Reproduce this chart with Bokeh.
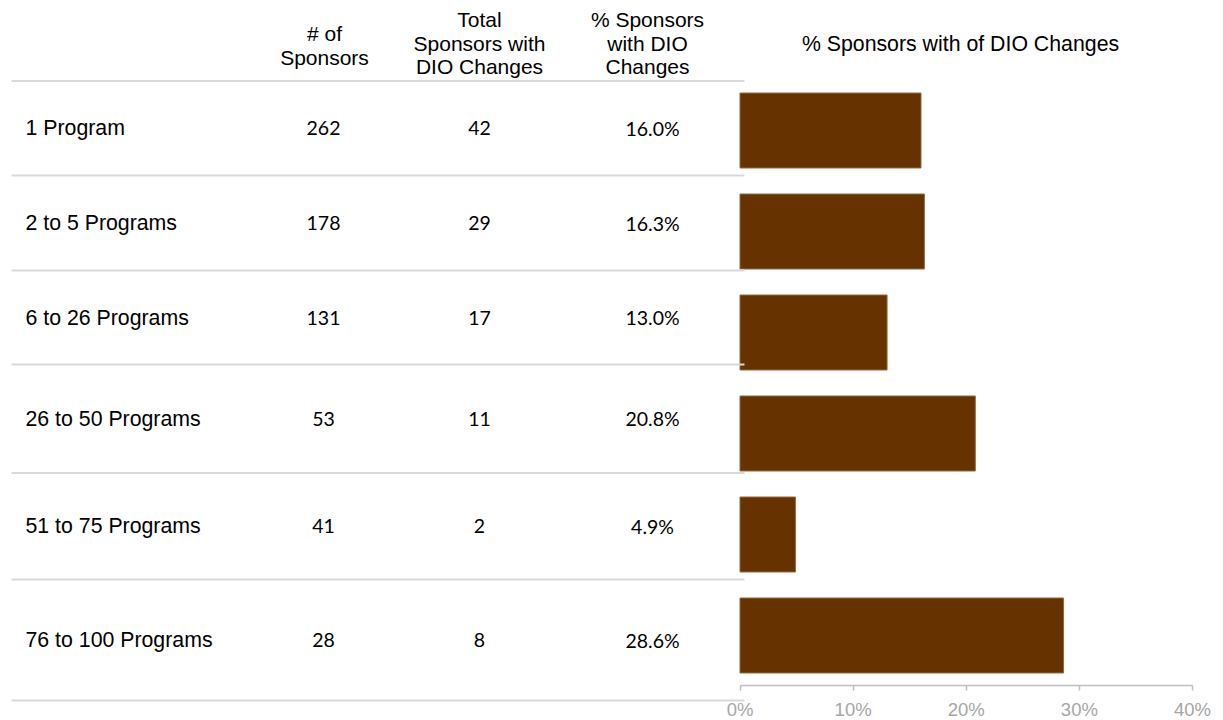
from bokeh.plotting import figure
from bokeh.models import Range1d, FixedTicker, NumeralTickFormatter, ColumnDataSource
from bokeh.core.properties import value
from bokeh.embed import file_html
from bokeh.resources import INLINE

# ---- data ----
categories = ["1 Program", "2 to 5 Programs", "6 to 26 Programs",
              "26 to 50 Programs", "51 to 75 Programs", "76 to 100 Programs"]
num_sponsors = [262, 178, 131, 53, 41, 28]
dio_changes = [42, 29, 17, 11, 2, 8]
pct_changes = [16.0, 16.3, 13.0, 20.8, 4.9, 28.6]
tick_values = [0, 10, 20, 30, 40]
col_headers = [["# of", "Sponsors"],
               ["Total", "Sponsors with", "DIO Changes"],
               ["% Sponsors", "with DIO", "Changes"]]
chart_title = "% Sponsors with of DIO Changes"

# ---- layout constants (canvas pixels) ----
ARIAL = "Liberation Sans"
CALIBRI = "Lato"
BROWN = "#663300"
W, H = 1220, 718
X0_PX = 739.5            # pixel of 0%
PX_PER_UNIT = 1131.25    # pixels per 100%
ROW0_PX = 130.0          # pixel centre of first bar row
ROW_PX = 101.0           # pixels per bar row
AXIS_PX = 685.0


def ux(px):
    return (px - X0_PX) / PX_PER_UNIT


def uy(py):
    return (py - ROW0_PX) / ROW_PX


sep_px = [80.5, 175, 270, 364, 472.5, 579, 700]
row_mid_px = [(sep_px[i] + sep_px[i + 1]) / 2 for i in range(len(categories))]
hdr_x_px = [324, 479, 647]
val_x_px = [323, 479, 652]

p = figure(width=W, height=H,
           x_range=Range1d(ux(0), ux(W)), y_range=Range1d(uy(H), uy(0)),
           output_backend="svg", toolbar_location=None,
           y_axis_location=None, x_axis_location="below", min_border=0)
p.min_border_left = p.min_border_right = p.min_border_top = p.min_border_bottom = 0
p.grid.visible = False
p.outline_line_color = None

# ---- bars ----
src = ColumnDataSource(dict(idx=list(range(len(categories))), cat=categories,
                            val=[v / 100 for v in pct_changes]))
p.hbar(y="idx", left=0, right="val", height=75 / ROW_PX, source=src,
       fill_color=BROWN, line_color="#8f6a45", line_width=1)

# ---- table separators ----
sy = [uy(v) for v in sep_px]
p.segment(x0=[ux(11)] * len(sy), x1=[ux(744)] * len(sy), y0=sy, y1=sy,
          line_color="#d9d9d9", line_width=2)

# ---- headers ----
hx, hy, ht = [], [], []
for cx, lines in zip(hdr_x_px, col_headers):
    top = 33 if len(lines) == 2 else 19
    for k, s in enumerate(lines):
        hx.append(ux(cx)); hy.append(uy(top + k * 23.5)); ht.append(s)
p.text(x=hx, y=hy, text=ht, text_align="center", text_baseline="middle",
       text_font=value(ARIAL), text_font_size="21px", text_color="#000000")

p.text(x=[ux(960)], y=[uy(43)], text=[chart_title], text_align="center",
       text_baseline="middle", text_font=value(ARIAL), text_font_size="21.3px",
       text_color="#000000")

# ---- row labels ----
ry = [uy(v) for v in row_mid_px]
p.text(x=[ux(25)] * len(categories), y=ry, text=categories, text_align="left",
       text_baseline="middle", text_font=value(ARIAL), text_font_size="21.3px",
       text_color="#000000")

# ---- value columns ----
cols = [[str(v) for v in num_sponsors], [str(v) for v in dio_changes],
        ["%.1f%%" % v for v in pct_changes]]
for cx, vals in zip(val_x_px, cols):
    p.text(x=[ux(cx)] * len(vals), y=ry, text=vals, text_align="center",
           text_baseline="middle", text_font=value(CALIBRI), text_font_size="19.5px",
           text_color="#000000")

# ---- x axis ----
ax = p.xaxis[0]
ax.fixed_location = uy(AXIS_PX)
ax.ticker = FixedTicker(ticks=[v / 100 for v in tick_values])
ax.formatter = NumeralTickFormatter(format="0%")
ax.bounds = (0, 0.4)
ax.axis_line_color = "#bfbfbf"
ax.axis_line_width = 1.5
ax.major_tick_line_color = "#bfbfbf"
ax.major_tick_line_width = 1.5
ax.major_tick_in = 0
ax.major_tick_out = 5
ax.minor_tick_line_color = None
ax.major_label_text_color = "#a6a6a6"
ax.major_label_text_font = ARIAL
ax.major_label_text_font_size = "18.5px"
ax.major_label_standoff = 8

open("out.html", "w").write(file_html(p, INLINE))
